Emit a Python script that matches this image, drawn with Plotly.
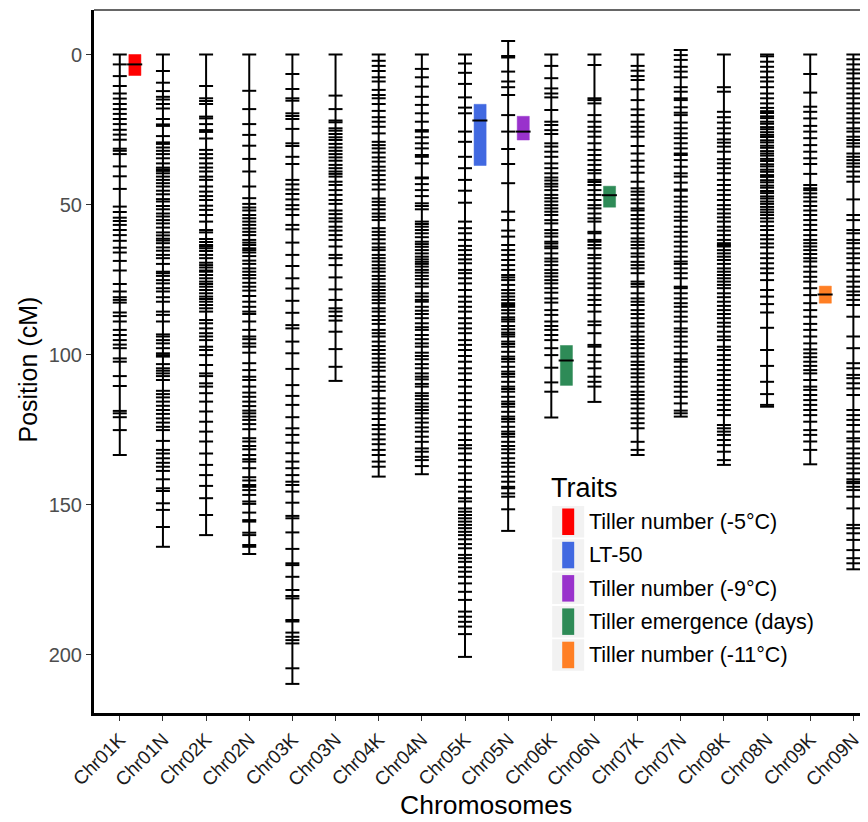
import plotly.graph_objects as go

chrom_names = ["Chr01K", "Chr01N", "Chr02K", "Chr02N", "Chr03K", "Chr03N", "Chr04K", "Chr04N", "Chr05K",
               "Chr05N", "Chr06K", "Chr06N", "Chr07K", "Chr07N", "Chr08K", "Chr08N", "Chr09K", "Chr09N"]

chr01K = [0, 3.3, 7.2, 10.5, 13.0, 14.7, 16.5, 18.2, 19.8, 21.5, 23.2, 25.1, 26.7, 28.4, 31.4, 32.1, 33.2, 37.3, 40.6,
          44.8, 50.7, 52.5, 54.4, 55.5, 56.8, 58.5, 60.2, 62.1, 64.4, 66.0, 68.8, 72.0, 76.5, 79.0, 80.9, 81.8, 82.7,
          86.0, 87.2, 89.0, 91.8, 93.5, 95.2, 96.7, 97.9, 101.3, 102.4, 107.2, 110.5, 118.8, 119.6, 120.9, 125.2, 133.5]
chr01N = [0, 5.5, 9.4, 12.2, 14.1, 15.0, 16.5, 18.0, 21.5, 23.3, 23.8, 27.2, 29.3, 29.8, 31.0, 32.1, 33.2, 34.6, 36.3,
          37.7, 38.3, 38.8, 39.6, 40.7, 41.8, 42.9, 44.0, 45.4, 46.6, 48.2, 49.0, 50.5, 51.6, 53.0, 54.0, 55.2, 56.3,
          57.7, 59.3, 60.3, 61.4, 62.0, 62.9, 64.3, 65.4, 66.8, 67.9, 69.8, 72.4, 72.9, 73.8, 75.2, 76.3, 77.9, 79.0,
          80.9, 82.4, 85.7, 86.8, 89.0, 93.3, 94.0, 95.2, 96.3, 97.9, 99.6, 100.2, 100.7, 103.2, 104.6, 105.4, 106.3,
          107.2, 108.5, 112.1, 113.2, 114.3, 115.7, 117.1, 118.5, 119.8, 121.3, 122.7, 124.1, 125.2, 128.8, 131.8,
          133.0, 134.6, 136.1, 137.4, 138.8, 141.6, 144.6, 145.5, 149.6, 151.8, 157.5, 164.1]
chr02K = [0, 10.5, 14.6, 15.5, 16.5, 20.7, 21.3, 23.2, 25.2, 25.8, 28.0, 31.8, 33.2, 34.6, 36.3, 37.7, 39.0, 40.7,
          41.8, 44.0, 45.7, 47.2, 48.5, 50.4, 51.8, 53.5, 55.7, 58.5, 59.3, 61.5, 62.5, 63.5, 64.0, 64.6, 65.5, 66.8,
          67.9, 69.4, 70.2, 71.0, 72.0, 72.4, 73.5, 74.6, 75.7, 76.5, 77.4, 78.5, 79.6, 80.7, 81.5, 82.4, 83.5, 84.6,
          85.7, 88.5, 89.6, 91.3, 92.9, 94.0, 95.2, 97.4, 98.5, 100.2, 103.5, 106.3, 107.2, 109.6, 110.7, 112.9,
          115.7, 119.0, 122.4, 125.7, 129.0, 133.0, 136.8, 140.2, 143.8, 147.9, 153.5, 160.2]
chr02N = [0, 12.1, 18.2, 23.2, 26.8, 30.4, 34.8, 39.0, 44.0, 47.9, 49.8, 51.0, 52.0, 53.5, 54.6, 55.7, 56.8, 58.0,
          59.1, 60.2, 61.8, 62.7, 63.5, 64.6, 65.2, 66.0, 67.2, 68.7, 69.8, 71.3, 72.4, 73.5, 74.6, 76.1, 77.4, 78.7,
          80.5, 82.4, 84.1, 85.7, 86.5, 89.0, 91.8, 94.0, 94.9, 96.3, 97.4, 99.4, 102.9, 105.2, 107.4, 108.5, 110.7,
          112.7, 114.1, 115.7, 117.2, 118.7, 119.6, 120.7, 121.8, 123.2, 124.9, 127.9, 129.0, 130.5, 131.6, 133.5,
          134.9, 135.7, 137.9, 140.9, 142.0, 143.5, 144.1, 145.2, 146.8, 149.0, 149.8, 152.7, 155.2, 155.7, 159.4,
          160.2, 163.5, 164.1, 166.5]
chr03K = [0, 6.5, 11.5, 14.6, 15.4, 19.6, 20.5, 21.5, 24.8, 29.6, 30.5, 34.1, 36.5, 41.8, 43.3, 45.0, 46.5, 48.3,
          50.2, 51.6, 53.5, 56.8, 58.3, 62.7, 66.8, 70.5, 74.6, 78.0, 82.1, 86.1, 90.2, 91.3, 95.7, 99.6, 104.8,
          110.2, 113.8, 116.8, 120.9, 124.6, 126.8, 129.4, 132.9, 135.7, 137.9, 140.2, 142.4, 143.5, 145.7, 149.4,
          153.8, 154.6, 159.3, 164.8, 169.6, 170.2, 174.1, 178.5, 180.5, 181.3, 188.5, 189.0, 192.7, 194.1, 195.2,
          196.3, 204.6, 209.8]
chr03N = [0, 13.7, 18.2, 22.0, 22.6, 24.6, 25.4, 26.5, 27.6, 28.5, 29.8, 31.0, 32.1, 33.2, 34.3, 35.4, 36.8, 37.9,
          39.0, 39.8, 40.7, 42.4, 43.5, 45.2, 46.8, 48.5, 49.8, 52.0, 53.2, 54.6, 55.7, 57.4, 58.7, 60.2, 61.8, 64.0,
          66.8, 67.9, 70.2, 74.3, 78.3, 81.8, 84.6, 85.7, 87.2, 88.7, 92.4, 98.2, 104.1, 108.8]
chr04K = [0, 2.1, 3.8, 5.5, 7.6, 9.0, 11.8, 13.5, 14.6, 16.5, 18.8, 20.9, 22.4, 24.1, 26.3, 29.1, 30.2, 31.3, 32.7,
          34.3, 35.7, 37.4, 38.7, 40.2, 41.8, 43.3, 45.0, 48.0, 49.1, 50.2, 51.6, 53.0, 54.1, 55.2, 57.9, 59.1, 60.2,
          61.6, 63.0, 64.3, 65.2, 66.8, 67.9, 69.0, 70.2, 71.3, 72.4, 73.8, 74.9, 76.3, 77.4, 78.5, 79.6, 80.7, 81.8,
          82.9, 84.6, 85.7, 87.2, 88.5, 89.8, 91.8, 92.9, 94.0, 95.7, 97.2, 98.5, 99.8, 101.3, 102.7, 104.1, 105.4,
          107.4, 109.1, 110.7, 112.1, 114.6, 116.3, 118.0, 119.6, 121.5, 123.5, 124.9, 126.6, 128.3, 129.9, 131.8,
          133.5, 135.7, 137.4, 140.7]
chr04N = [0, 4.8, 7.6, 10.7, 14.1, 16.8, 19.6, 22.4, 25.2, 25.7, 27.6, 29.6, 31.3, 33.5, 34.1, 36.3, 41.0, 41.3,
          43.2, 45.2, 47.2, 49.6, 50.5, 51.6, 55.7, 56.5, 57.4, 58.5, 59.6, 60.9, 62.4, 63.2, 64.1, 65.2, 66.3, 67.4,
          68.3, 69.1, 69.8, 70.7, 71.8, 72.7, 73.8, 74.9, 76.3, 77.4, 79.6, 80.7, 81.8, 82.4, 84.1, 85.4, 86.5, 87.9,
          89.6, 90.9, 91.8, 93.5, 94.9, 96.3, 97.4, 99.4, 100.5, 101.6, 103.2, 104.6, 106.3, 107.4, 108.3, 109.8,
          110.7, 112.9, 113.8, 114.9, 116.3, 117.4, 118.5, 119.6, 121.3, 122.7, 124.3, 125.7, 127.4, 129.1, 131.3,
          132.4, 134.1, 135.2, 137.2, 139.9]
chr05K = [0, 3.0, 6.1, 9.8, 14.3, 17.7, 19.6, 25.7, 29.1, 34.1, 37.9, 41.8, 45.4, 49.4, 55.7, 57.9, 59.6, 61.8, 63.8,
          65.2, 66.8, 68.3, 69.6, 71.8, 72.9, 74.6, 76.3, 78.5, 80.7, 82.4, 84.1, 85.7, 87.9, 89.6, 91.3, 92.9, 95.2,
          96.8, 98.5, 100.5, 102.4, 104.6, 106.3, 108.5, 110.7, 112.9, 115.2, 117.4, 119.6, 121.8, 124.1, 126.3,
          128.5, 130.2, 131.3, 133.0, 135.2, 137.4, 139.6, 141.8, 144.1, 145.7, 147.9, 149.0, 151.3, 152.4, 153.5,
          154.6, 155.7, 156.8, 157.9, 159.1, 160.2, 161.6, 163.2, 164.6, 166.8, 167.9, 169.1, 170.9, 172.4, 174.1,
          176.3, 179.1, 181.8, 185.7, 187.4, 189.1, 190.7, 193.2, 200.8]
chr05N = [-4.5, 0.5, 1.0, 5.7, 9.0, 10.9, 13.5, 20.2, 25.7, 31.5, 36.5, 42.9, 52.4, 55.2, 58.7, 60.7, 63.5, 65.2,
          66.8, 68.5, 70.2, 71.8, 73.5, 74.3, 75.2, 76.8, 78.5, 79.6, 80.7, 81.8, 82.9, 83.5, 84.1, 85.2, 86.3, 87.6,
          88.3, 89.0, 90.5, 91.6, 92.7, 93.3, 94.0, 95.7, 96.5, 97.4, 99.1, 100.7, 101.5, 102.4, 104.1, 105.7, 106.5,
          107.4, 109.1, 110.7, 111.5, 112.4, 114.1, 115.7, 116.5, 117.4, 119.1, 120.7, 121.5, 122.4, 124.1, 125.7,
          126.5, 127.4, 129.1, 130.5, 131.6, 132.9, 134.6, 136.1, 137.4, 139.1, 140.7, 142.4, 144.1, 144.6, 146.3,
          147.4, 151.6, 158.8]
chr06K = [0, 3.8, 7.9, 11.3, 13.0, 14.3, 18.5, 22.4, 23.5, 25.2, 26.5, 29.6, 30.7, 32.4, 34.1, 36.3, 37.9, 39.6,
          41.0, 42.0, 43.1, 44.0, 45.2, 46.8, 47.9, 49.0, 50.2, 51.3, 52.4, 53.5, 55.2, 56.3, 58.5, 59.6, 60.7, 62.4,
          63.0, 64.0, 64.6, 66.3, 68.0, 69.0, 70.2, 71.8, 72.9, 74.0, 75.2, 76.3, 77.9, 79.4, 81.3, 82.7, 85.2, 86.8,
          89.0, 90.5, 91.8, 93.5, 95.2, 97.9, 100.2, 104.4, 109.3, 112.4, 121.0]
chr06N = [0, 3.5, 14.6, 15.2, 16.3, 20.2, 22.4, 24.1, 25.7, 27.4, 29.6, 31.8, 33.5, 35.2, 36.8, 38.5, 39.6, 41.8,
          42.5, 43.5, 45.2, 46.8, 48.5, 50.2, 51.3, 53.0, 54.6, 55.7, 59.1, 59.6, 61.8, 62.4, 63.5, 64.6, 66.8, 67.9,
          69.6, 71.3, 72.9, 74.6, 76.3, 77.9, 80.2, 81.8, 83.5, 85.7, 89.0, 90.2, 92.9, 96.8, 97.4, 100.2, 102.4,
          104.6, 107.4, 109.1, 110.7, 115.8]
chr07K = [0, 3.8, 5.4, 7.2, 8.5, 11.6, 15.2, 18.3, 20.2, 22.4, 24.1, 25.7, 27.4, 30.5, 33.0, 35.4, 37.4, 39.4, 42.4,
          44.6, 45.7, 46.8, 48.3, 49.6, 51.3, 52.0, 53.5, 54.9, 56.3, 57.9, 59.6, 61.3, 62.4, 63.5, 64.6, 66.3, 67.4,
          69.1, 70.2, 71.3, 72.9, 75.7, 76.5, 77.4, 79.6, 81.3, 82.4, 83.5, 85.2, 86.5, 87.9, 89.6, 90.7, 92.4, 94.0,
          95.2, 96.5, 97.9, 99.6, 100.7, 102.4, 103.5, 104.9, 106.3, 107.6, 109.1, 110.7, 112.4, 113.5, 114.9, 116.3,
          118.0, 119.6, 121.3, 122.9, 124.6, 129.1, 131.8, 133.5]
chr07N = [-1.5, 0.2, 1.8, 4.1, 5.7, 7.6, 10.9, 12.4, 14.6, 15.2, 17.6, 19.4, 20.2, 22.7, 24.6, 26.3, 27.9, 29.6,
          31.3, 33.0, 33.5, 35.2, 37.4, 39.6, 40.7, 42.7, 45.0, 45.4, 47.4, 49.0, 50.7, 52.4, 54.1, 55.4, 57.4, 59.1,
          60.7, 62.4, 64.0, 65.7, 67.4, 69.0, 69.8, 71.3, 72.9, 74.6, 77.4, 77.9, 79.6, 81.3, 82.9, 84.1, 85.7, 87.4,
          89.0, 91.3, 92.4, 94.0, 95.7, 97.4, 99.6, 101.6, 102.4, 104.1, 105.7, 107.4, 109.1, 110.7, 112.4, 114.1,
          116.3, 118.7, 119.6, 120.7]
chr08K = [0, 10.9, 12.4, 19.1, 20.9, 22.7, 24.6, 26.3, 28.3, 29.4, 30.7, 32.4, 34.9, 36.3, 37.9, 39.6, 41.8, 43.5,
          45.2, 46.8, 48.5, 50.2, 51.6, 53.0, 54.3, 55.7, 57.4, 58.7, 60.2, 61.8, 62.9, 63.5, 64.0, 65.2, 66.3, 67.4,
          68.5, 69.8, 71.3, 72.4, 73.5, 74.6, 75.7, 76.8, 77.9, 79.6, 80.9, 82.4, 83.8, 85.2, 86.5, 87.9, 89.4, 90.7,
          92.4, 94.0, 95.2, 97.4, 98.5, 100.2, 101.8, 103.5, 105.2, 106.8, 108.5, 110.2, 111.8, 113.5, 115.2, 116.8,
          118.5, 120.2, 123.5, 124.6, 125.7, 126.8, 128.5, 130.2, 132.4, 135.2, 136.8]
chr08N = [0, 0.6, 2.4, 4.1, 5.7, 7.6, 9.0, 10.9, 13.0, 14.6, 16.3, 17.8, 18.9, 19.5, 20.6, 21.2, 22.4, 23.1, 24.2,
          24.9, 25.9, 26.8, 27.5, 28.6, 29.3, 30.4, 31.1, 32.2, 33.0, 33.7, 34.8, 35.5, 36.6, 37.3, 38.4, 39.1, 40.2,
          40.8, 41.9, 42.6, 43.7, 44.4, 45.5, 46.2, 47.3, 48.0, 49.0, 49.8, 50.8, 51.7, 52.6, 53.5, 54.6, 55.7, 57.2,
          58.5, 60.2, 61.6, 63.0, 64.3, 66.3, 67.9, 69.6, 71.3, 72.9, 75.2, 78.5, 80.7, 83.2, 86.0, 91.1, 98.5,
          103.8, 109.1, 113.2, 116.8, 117.4]
chr09K = [0, 6.5, 12.7, 17.4, 19.1, 21.3, 23.8, 25.7, 27.9, 30.2, 32.4, 34.6, 36.5, 39.8, 43.5, 44.6, 45.2, 46.3,
          47.6, 49.0, 50.5, 52.0, 53.5, 55.2, 56.8, 58.5, 60.2, 61.8, 62.9, 64.0, 65.2, 66.5, 67.9, 69.0, 70.7, 72.4,
          74.1, 75.7, 77.9, 80.2, 82.9, 85.2, 87.4, 89.8, 91.8, 94.0, 96.3, 98.3, 99.6, 100.9, 102.4, 103.8, 105.2,
          106.3, 108.5, 110.7, 111.8, 113.5, 115.2, 116.8, 118.5, 120.2, 122.4, 125.2, 126.8, 129.0, 131.8, 136.6]
chr09N = [0, 1.6, 3.3, 5.0, 6.3, 8.0, 9.6, 11.3, 13.0, 14.6, 16.3, 18.0, 19.6, 21.3, 22.7, 24.6, 25.7, 27.4, 28.5,
          29.6, 30.7, 33.0, 34.1, 35.2, 36.3, 37.4, 39.0, 40.7, 42.4, 48.3, 53.5, 55.2, 58.5, 59.6, 61.8, 62.9, 64.6,
          66.3, 67.9, 69.6, 71.8, 74.0, 75.7, 77.4, 79.0, 80.2, 81.8, 83.5, 87.4, 94.0, 97.9, 102.9, 104.6, 106.8,
          107.9, 109.6, 111.3, 113.5, 118.5, 120.2, 121.8, 123.5, 125.7, 127.9, 129.0, 131.3, 133.0, 134.6, 136.3,
          138.0, 139.6, 141.6, 142.4, 142.9, 144.1, 145.2, 147.4, 151.3, 156.8, 157.9, 159.6, 161.8, 165.2, 167.9,
          169.6, 171.6]

marker_lists = [chr01K, chr01N, chr02K, chr02N, chr03K, chr03N, chr04K, chr04N, chr05K,
                chr05N, chr06K, chr06N, chr07K, chr07N, chr08K, chr08N, chr09K, chr09N]

trait_names = ["Tiller number (-5°C)", "LT-50", "Tiller number (-9°C)", "Tiller emergence (days)",
               "Tiller number (-11°C)"]
trait_colors = ["#FF0000", "#4169E1", "#9932CC", "#2E8B57", "#FF7F24"]

qtl_chrom = ["Chr01K", "Chr05K", "Chr05N", "Chr06K", "Chr06N", "Chr09K"]
qtl_trait = ["Tiller number (-5°C)", "LT-50", "Tiller number (-9°C)", "Tiller emergence (days)",
             "Tiller emergence (days)", "Tiller number (-11°C)"]
qtl_start = [0.0, 16.6, 20.6, 97.0, 43.9, 77.2]
qtl_end = [7.0, 37.0, 28.5, 110.3, 50.9, 82.9]
qtl_peak = [3.3, 22.0, 25.7, 102.0, 46.9, 80.0]

fig = go.Figure()

# chromosome backbones
bx, by = [], []
for i, m in enumerate(marker_lists):
    bx += [i + 1, i + 1, None]
    by += [min(m), max(m), None]
fig.add_trace(go.Scatter(x=bx, y=by, mode="lines", line=dict(color="black", width=2),
                         hoverinfo="skip", showlegend=False))

# marker ticks
half = 0.162
tx, ty = [], []
for i, m in enumerate(marker_lists):
    for v in m:
        tx += [i + 1 - half, i + 1 + half, None]
        ty += [v, v, None]
fig.add_trace(go.Scatter(x=tx, y=ty, mode="lines", line=dict(color="black", width=2),
                         hoverinfo="skip", showlegend=False))

# QTL intervals
for c, t, s, e, p in zip(qtl_chrom, qtl_trait, qtl_start, qtl_end, qtl_peak):
    xi = chrom_names.index(c) + 1
    col = trait_colors[trait_names.index(t)]
    x0, x1 = xi + 0.21, xi + 0.49
    fig.add_trace(go.Scatter(x=[x0, x1, x1, x0, x0], y=[s, s, e, e, s], mode="lines", fill="toself",
                             fillcolor=col, line=dict(color=col, width=0.5), name=t,
                             hoverinfo="name", showlegend=False))
    fig.add_trace(go.Scatter(x=[xi + 0.17, xi + 0.52], y=[p, p], mode="lines",
                             line=dict(color="black", width=2), hoverinfo="skip", showlegend=False))

# the page body adds an 8px offset; work in screen pixels and subtract it
OFF = 8
SL, SR, ST, SB = 93.5, 868, 10, 713   # plot area edges in screen pixels
FW, FH = 868 - OFF, 822 - OFF
L, R, T, B = SL - OFF, SR - OFF, ST - OFF, SB - OFF
W, H = R - L, B - T


def px(xs):
    return (xs - OFF - L) / W


def py(ys):
    return (B - (ys - OFF)) / H


shapes = [dict(type="line", xref="paper", yref="paper", x0=0, x1=1, y0=1, y1=1,
               line=dict(color="#333333", width=1.5))]
annotations = []

# manual legend (screen pixel positions)
annotations.append(dict(x=px(549), y=py(488), xref="paper", yref="paper", text="Traits", showarrow=False,
                        xanchor="left", yanchor="middle", font=dict(size=27, color="black")))
for k, (name, col) in enumerate(zip(trait_names, trait_colors)):
    top = 506 + k * 33.3
    shapes.append(dict(type="rect", xref="paper", yref="paper", x0=px(552), x1=px(584),
                       y0=py(top + 31.5), y1=py(top), fillcolor="#F2F2F2", line=dict(width=0), layer="above"))
    shapes.append(dict(type="rect", xref="paper", yref="paper", x0=px(562), x1=px(574),
                       y0=py(top + 29), y1=py(top + 2.5), fillcolor=col, line=dict(width=0), layer="above"))
    annotations.append(dict(x=px(587), y=py(top + 16), xref="paper", yref="paper", text=name, showarrow=False,
                            xanchor="left", yanchor="middle", font=dict(size=21.5, color="black")))

annotations.append(dict(x=px(486), y=py(805), xref="paper", yref="paper", text="Chromosomes", showarrow=False,
                        xanchor="center", yanchor="middle", font=dict(size=26.5, color="black")))
annotations.append(dict(x=px(27), y=py(370), xref="paper", yref="paper", text="Position (cM)", showarrow=False,
                        textangle=-90, xanchor="center", yanchor="middle", font=dict(size=25, color="black")))

# data ranges from screen geometry: x=1 at 119.3px, 43.18px per chromosome; y=0 at 54.5px, 3px per cM
x_lo = 1 + (SL - 119.3) / 43.18
x_hi = 1 + (SR - 119.3) / 43.18
y_top = (ST - 54.5) / 3
y_bot = (SB - 54.5) / 3

fig.update_layout(
    width=FW, height=FH,
    margin=dict(l=L, r=FW - R, t=T, b=FH - B, autoexpand=False),
    paper_bgcolor="white", plot_bgcolor="white",
    font=dict(family="Liberation Sans, Arial, sans-serif"),
    shapes=shapes, annotations=annotations,
    xaxis=dict(range=[x_lo, x_hi], tickmode="array", tickvals=list(range(1, 19)), ticktext=chrom_names,
               tickangle=-45, ticks="outside", ticklen=5, tickwidth=1, tickcolor="#333333",
               showline=True, linewidth=3, linecolor="black", showgrid=False, zeroline=False,
               automargin=False, tickfont=dict(size=19, color="#1A1A1A")),
    yaxis=dict(range=[y_bot, y_top], tickmode="array", tickvals=[0, 50, 100, 150, 200],
               ticks="outside", ticklen=5, tickwidth=1, tickcolor="#333333",
               showline=True, linewidth=3, linecolor="black", showgrid=False, zeroline=False,
               automargin=False, tickfont=dict(size=20, color="#4D4D4D")),
    showlegend=False,
)

fig.write_html("out.html")
